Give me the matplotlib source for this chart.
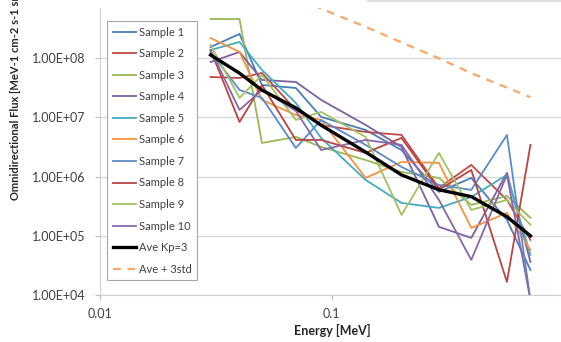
import matplotlib
matplotlib.use('Agg')
import matplotlib.pyplot as plt
from matplotlib.lines import Line2D
from matplotlib.ticker import FixedLocator, FuncFormatter, NullLocator

plt.rcParams['font.family'] = ['Lato', 'DejaVu Sans']

energy = [0.03, 0.04, 0.05, 0.07, 0.09, 0.14, 0.2, 0.29, 0.4, 0.57, 0.72]

sample_1 = [1.55e8, 2.58e8, 3.54e7, 3.15e7, 1.02e7, 6.15e6, 2.82e6, 5.52e5, 9.51e5, 1.86e5, 2.65e4]
sample_2 = [4.83e7, 4.65e7, 5.65e7, 1.34e7, 7.48e6, 5.69e6, 5.07e6, 6.44e5, 1.58e6, 4.05e5, 8.53e4]
sample_3 = [4.61e8, 4.61e8, 3.71e6, 4.69e6, 3.18e6, 1.91e6, 1.20e6, 9.51e5, 3.33e5, 4.72e5, 2.01e5]
sample_4 = [8.67e7, 1.28e8, 4.31e7, 3.98e7, 1.98e7, 7.48e6, 3.18e6, 1.42e5, 9.23e4, 1.16e6, 3.62e4]
sample_5 = [1.38e8, 1.89e8, 6.35e7, 1.76e7, 4.51e6, 8.79e5, 3.60e5, 2.96e5, 4.54e5, 1.07e6, 4.76e4]
sample_6 = [2.20e8, 1.28e8, 1.98e7, 1.10e7, 9.08e6, 9.51e5, 1.77e6, 1.71e6, 1.36e5, 2.44e5, 5.78e4]
sample_7 = [1.28e8, 2.92e7, 2.14e7, 3.05e6, 9.08e6, 3.44e6, 1.46e6, 7.24e5, 5.97e5, 5.07e6, 8.3e3]
sample_8 = [1.38e8, 8.39e6, 3.54e7, 4.17e6, 4.17e6, 2.52e6, 4.51e6, 5.97e5, 1.30e6, 1.66e4, 3.44e6]
sample_9 = [1.68e8, 2.14e7, 5.22e7, 9.08e6, 1.24e7, 4.69e6, 2.25e5, 2.52e6, 2.74e5, 4.05e5, 1.53e5]
sample_10 = [1.38e8, 1.34e7, 2.92e7, 1.29e7, 2.82e6, 4.17e6, 3.44e6, 4.05e5, 3.92e4, 1.07e6, 8.26e3]

ave_kp3 = [1.14e8, 5.6e7, 2.9e7, 1.45e7, 7.4e6, 2.6e6, 1.07e6, 6.0e5, 4.6e5, 2.1e5, 1.0e5]
ave_3std = [4.4e9, 2.6e9, 1.85e9, 1.1e9, 6.9e8, 3.4e8, 1.86e8, 1.0e8, 5.6e7, 3.2e7, 2.2e7]

samples = [sample_1, sample_2, sample_3, sample_4, sample_5,
           sample_6, sample_7, sample_8, sample_9, sample_10]
sample_names = [f"Sample {i}" for i in range(1, 11)]
colors = ['#4A7EBB', '#BE4B48', '#98B954', '#7D60A0', '#46AAC5',
          '#F69240', '#5A8ACB', '#B84542', '#A2C262', '#8668A8']

W, H = 561, 342
fig = plt.figure(figsize=(W / 100, H / 100), dpi=100)
ax = fig.add_axes([100 / W, (H - 295) / H, 463.5 / W, 287 / H])

for vals, name, c in zip(samples, sample_names, colors):
    ax.plot(energy, vals, color=c, lw=1.3, label=name)
ax.plot(energy, ave_kp3, color='black', lw=2.4, label='Ave Kp=3')
ax.plot(energy, ave_3std, color='#F9A766', lw=1.6, ls=(0, (3.5, 3)), label='Ave + 3std')

ax.set_xscale('log')
ax.set_yscale('log')
ax.set_xlim(0.01, 1)
ax.set_ylim(1e4, 7.08e8)

ax.yaxis.set_major_locator(FixedLocator([1e4, 1e5, 1e6, 1e7, 1e8]))
ax.yaxis.set_major_formatter(FuncFormatter(lambda v, p: f"{v:.2E}"))
ax.yaxis.set_minor_locator(NullLocator())
ax.xaxis.set_major_locator(FixedLocator([0.01, 0.1, 1]))
ax.xaxis.set_major_formatter(FuncFormatter(lambda v, p: f"{v:g}"))
ax.xaxis.set_minor_locator(NullLocator())

ax.grid(axis='y', color='#D9D9D9', lw=1.0)
ax.set_axisbelow(True)
for s in ['top', 'right']:
    ax.spines[s].set_visible(False)
for s in ['left', 'bottom']:
    ax.spines[s].set_color('#D0D0D0')
ax.tick_params(axis='both', colors='#BFBFBF', labelcolor='#404040',
               labelsize=9, length=3.5, width=0.8)
ax.tick_params(axis='y', pad=7)
ax.tick_params(axis='x', pad=6)

fig.text(332 / W, 1 - 330 / H, 'Energy [MeV]', ha='center', va='center',
         fontsize=9, fontweight='bold', color='#262626')
fig.text(16 / W, 1 - 200 / H, 'Omnidirectional Flux [MeV-1 cm-2 s-1 sr-1]',
         rotation=90, ha='center', va='bottom', fontsize=8,
         fontweight='bold', color='#262626')

leg = ax.legend(loc='upper left', bbox_to_anchor=(107 / W, 1 - 21 / H),
                bbox_transform=fig.transFigure, borderaxespad=0,
                fontsize=8, labelspacing=0.95, handlelength=2.15,
                handletextpad=0.2, borderpad=0.5, fancybox=False,
                edgecolor='#A6A6A6', framealpha=1)
leg.get_frame().set_linewidth(0.8)
for t in leg.get_texts():
    t.set_color('#404040')

# thin grey edge visible at the top right of the picture
fig.add_artist(Line2D([368 / W, 1], [1 - 0.5 / H, 1 - 0.5 / H],
                      transform=fig.transFigure, color='#D9D9D9', lw=1.2))

fig.savefig('out.png', dpi=100)
